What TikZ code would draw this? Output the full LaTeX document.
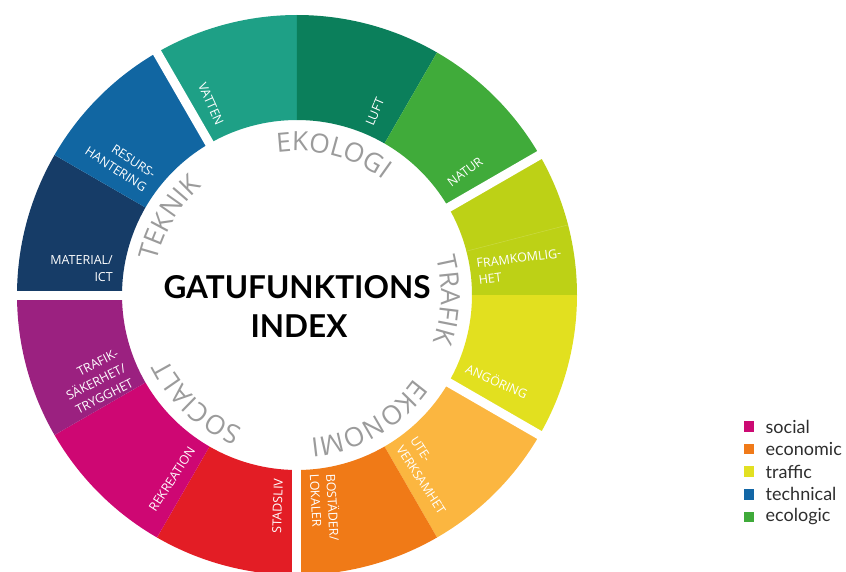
\documentclass[tikz,border=0pt]{standalone}
\usepackage{fontspec}
\usetikzlibrary{decorations.text}
\newfontfamily\segfont{Open Sans}
\newfontfamily\catf{Open Sans}
\newfontfamily\latof{Lato}
\definecolor{cVatten}{HTML}{1EA086}
\definecolor{cLuft}{HTML}{0B7F5B}
\definecolor{cNatur}{HTML}{40AB3A}
\definecolor{cFramk}{HTML}{BDD116}
\definecolor{cAngor}{HTML}{E2E01F}
\definecolor{cUte}{HTML}{FBB640}
\definecolor{cBost}{HTML}{F07A17}
\definecolor{cStads}{HTML}{E31D25}
\definecolor{cRekr}{HTML}{CE0773}
\definecolor{cTrafs}{HTML}{9B2180}
\definecolor{cMat}{HTML}{163C67}
\definecolor{cResurs}{HTML}{1166A2}
\definecolor{catgray}{HTML}{9B9B9B}
\definecolor{lSocial}{HTML}{CC0A73}
\definecolor{lEcon}{HTML}{F07A19}
\definecolor{lTraffic}{HTML}{E2E022}
\definecolor{lTech}{HTML}{1367A6}
\definecolor{lEco}{HTML}{3FAA3A}
\newcommand\segment[3]{\fill[#3] (#1:175) arc[start angle=#1, end angle=#2, radius=175] -- (#2:280) arc[start angle=#2, end angle=#1, radius=280] -- cycle;}
\newcommand\catsize{\catf\fontsize{26.5}{30}\selectfont}
\tikzset{
  seglabel/.style={text=white, font=\segfont\fontsize{12.5}{16.5}\selectfont, inner sep=0pt},
  gapline/.style={white, line width=9},
  catlabel/.style={decorate, decoration={text along path, text align=center, text color=catgray}},
  legbox/.style={minimum size=10.5, inner sep=0pt, outer sep=0pt},
  legtext/.style={font=\latof\fontsize{18}{20}\selectfont, text=black!82, anchor=west, inner sep=0pt},
  titletext/.style={font=\latof\bfseries\fontsize{31.5}{38}\selectfont, anchor=base, inner sep=0pt}
}
\begin{document}
\begin{tikzpicture}[x=1pt,y=1pt]
\useasboundingbox (-297,-276) rectangle (549,295);
% segments
\segment{90}{120}{cVatten}
\segment{60}{90}{cLuft}
\segment{30}{60}{cNatur}
\segment{0}{30}{cFramk}
\segment{-30}{0}{cAngor}
\segment{-60}{-30}{cUte}
\segment{-90}{-60}{cBost}
\segment{-120}{-90}{cStads}
\segment{-150}{-120}{cRekr}
\segment{-180}{-150}{cTrafs}
\segment{150}{180}{cMat}
\segment{120}{150}{cResurs}
% faint seam in Framkomlighet
\draw[cFramk!80!white, line width=0.5] (14.5:175) -- (14.5:280);
% gaps between groups
\foreach \a in {180,120,30,-30,-90} \draw[gapline] (0,0) -- (\a:300);
% segment labels
\node[seglabel, rotate=-66] (vatten) at (-86,191) {VATTEN};
\node[seglabel, rotate=67] (luft) at (78,183) {LUFT};
\node[seglabel, rotate=37] (natur) at (168,123) {NATUR};
\node[seglabel, rotate=7, anchor=west, align=left] (framk) at (180.5,23.5) {FRAMKOMLIG-\\HET};
\node[seglabel, rotate=-24] (angor) at (200,-86) {ANGÖRING};
\node[seglabel, rotate=-57, anchor=west, align=left] (ute) at (109.5,-147) {UTE-\\VERKSAMHET};
\node[seglabel, rotate=-87, anchor=west, align=left] (bost) at (26.5,-179) {BOSTÄDER/\\LOKALER};
\node[seglabel, rotate=88] (stads) at (-19.5,-211) {STADSLIV};
\node[seglabel, rotate=57] (rekr) at (-125,-184) {REKREATION};
\node[seglabel, rotate=27, align=right] (trafs) at (-201,-87) {TRAFIK-\\SÄKERHET/\\TRYGGHET};
\node[seglabel, anchor=east, align=right] (mat) at (-184,26.5) {MATERIAL/\\ICT};
\node[seglabel, rotate=-33, anchor=east, align=right] (resurs) at (-147,113.5) {RESURS-\\HANTERING};
% category labels
\path[catlabel, decoration={text={|\catsize|EKOLOGI}}] (125.5:144) arc[start angle=125.5, end angle=25.5, radius=144];
\path[catlabel, decoration={text={|\catsize|TEKNIK}}] (199:144) arc[start angle=199, end angle=99, radius=144];
\path[catlabel, decoration={text={|\catsize|TRAFIK}}] (48:144) arc[start angle=48, end angle=-52, radius=144];
\path[catlabel, decoration={text={|\catsize|EKONOMI}}] (-10:144) arc[start angle=-10, end angle=-110, radius=144];
\path[catlabel, decoration={text={|\catsize|SOCIALT}}] (-83:144) arc[start angle=-83, end angle=-183, radius=144];
% title
\node[titletext] (t1) at (0,-3) {GATUFUNKTIONS};
\node[titletext] (t2) at (2,-42) {INDEX};
% legend
\foreach \c/\t/\i in {lSocial/social/0, lEcon/economic/1, lTraffic/traffic/2, lTech/technical/3, lEco/ecologic/4} {
  \node[legbox, fill=\c] (box\i) at (452,{-131.5-22.6*\i}) {};
  \node[legtext] (leg\i) at (468.5,{-131.5-22.6*\i}) {\t};
}
\end{tikzpicture}
\end{document}
